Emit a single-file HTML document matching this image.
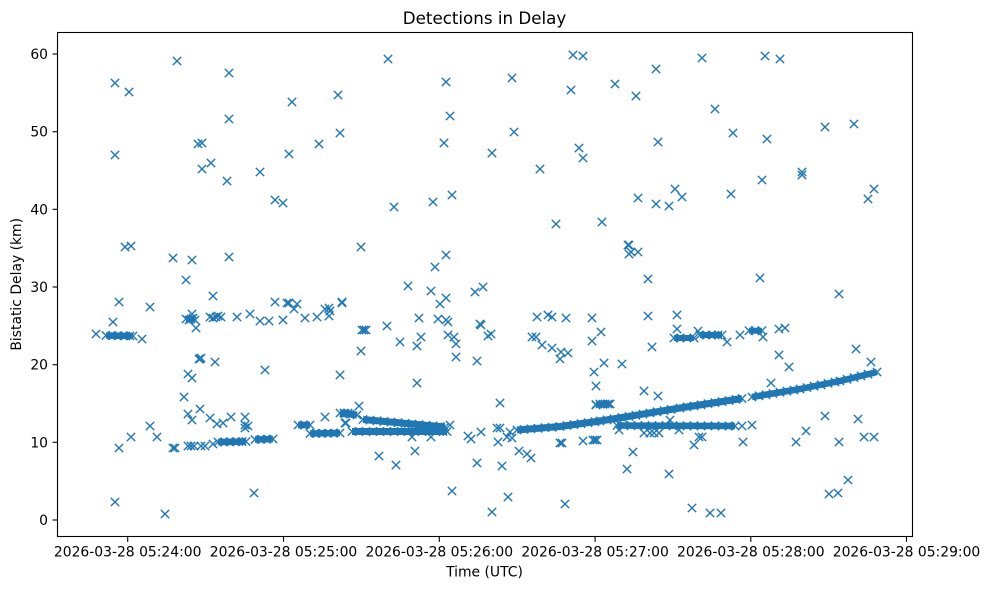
<!DOCTYPE html>
<html><head><meta charset="utf-8"><style>
html,body{margin:0;padding:0;background:#fff}
svg{display:block}
text{font-family:"DejaVu Sans","Liberation Sans",sans-serif;fill:#000}
</style></head><body>
<svg width="989" height="590" viewBox="0 0 989 590" xmlns="http://www.w3.org/2000/svg">
<defs>
<marker id="m" markerUnits="userSpaceOnUse" markerWidth="12" markerHeight="12" refX="6" refY="6" overflow="visible" orient="0">
<path d="M1.83 1.83L10.17 10.17M1.83 10.17L10.17 1.83" stroke="#1f77b4" stroke-width="1.39" fill="none"/>
</marker>
</defs>
<rect x="0" y="0" width="989" height="590" fill="#fff"/>
<text x="484.5" y="24" font-size="16.7" text-anchor="middle">Detections in Delay</text>

<!-- dense bands (core) -->
<g stroke="#1f77b4" fill="none" stroke-linecap="butt" stroke-linejoin="round">
<polyline stroke-width="6.5" points="106,335.5 133,336"/>
<polyline stroke-width="6.5" points="218,442 246,441.5"/>
<polyline stroke-width="6.5" points="255,439.5 273,439"/>
<polyline stroke-width="6.5" points="298,425 310,425"/>
<polyline stroke-width="6.5" points="310,433.5 340,433"/>
<polyline stroke-width="6" points="186,319 195,319"/>
<polyline stroke-width="7" points="340,413 357,415"/>
<polyline stroke-width="7" points="363,419.5 445,427"/>
<polyline stroke-width="7" points="352,431.5 447,431.5"/>
<polyline stroke-width="7" points="517,430 560,426.5 600,421 622,417.5 680,408 742,398.5"/>
<polyline stroke-width="6.5" points="752,397 800,389 840,381 877,372"/>
<polyline stroke-width="6.5" points="617,425.5 735,426"/>
<polyline stroke-width="6" points="674,338 694,338"/>
<polyline stroke-width="6" points="700,335 722,335"/>
<polyline stroke-width="6" points="749,330.7 762,330.7"/>
<polyline stroke-width="6" points="596,404.5 610,404"/>
</g>

<!-- band fringe markers -->
<polyline fill="none" stroke="none" marker-start="url(#m)" marker-mid="url(#m)" marker-end="url(#m)" points="
517,430 524,429.4 531,428.9 538,428.3 545,427.7 552,427.2 560,426.5 567,425.5 574,424.6 581,423.6 588,422.7 595,421.7 600,421 607,419.9 614,418.8 622,417.5 629,416.4 636,415.3 643,414.1 650,413 657,411.8 664,410.6 671,409.4 680,408 687,406.9 694,405.9 701,404.8 708,403.7 715,402.6 722,401.6 729,400.5 736,399.4 742,398.5
752,397 759,395.8 766,394.7 773,393.5 780,392.3 787,391.2 794,390 800,389 807,387.6 814,386.2 821,384.8 828,383.4 835,382 840,381 847,379.3 854,377.6 861,375.9 868,374.2 877,372
363,419.5 370,420.1 377,420.8 384,421.4 391,422 398,422.7 405,423.3 412,424 419,424.6 426,425.3 433,425.9 440,426.5 445,427
352,431.5 359,431.5 366,431.5 373,431.5 380,431.5 387,431.5 394,431.5 401,431.5 408,431.5 415,431.5 422,431.5 429,431.5 436,431.5 443,431.5 447,431.5
617,425.5 624,425.5 631,425.6 638,425.6 645,425.7 652,425.7 659,425.7 666,425.7 673,425.8 680,425.8 687,425.8 694,425.8 701,425.9 708,425.9 715,425.9 722,426 729,426 735,426
340,413 345,413.6 350,414.2 357,415
106,335.5 112,335.6 118,335.7 124,335.8 130,335.9 133,336
218,442 224,442 230,441.8 236,441.7 242,441.6 246,441.5
255,439.5 261,439.3 267,439.2 273,439
298,425 304,425 310,425
310,433.5 316,433.4 322,433.3 328,433.2 334,433.1 340,433
674,338 680,338 687,338 694,338
700,335 706,335 712,335 718,335 722,335
749,330.7 755,330.7 762,330.7
596,404.5 603,404.3 610,404"/>

<!-- scatter markers -->
<polyline fill="none" stroke="none" marker-start="url(#m)" marker-mid="url(#m)" marker-end="url(#m)" points="
177,61 229,73 115,83 129,92 292,102 338,95 229,119 340,133 198,144 202,143 319,144 115,155 289,154 211,163 202,169 227,181 260,172 275,200 283,203 125,247 131,246 173,258 192,260 229,257
186,280 213,296 119,302 150,307 275,302 287,303 289,303 297,304 294,309 342,302 342,303 113,322 96,334 142,339
186,319 189,320 191,319 193,318 195,320 192,314 196,328 210,317 213,318 216,317 218,316 221,317 237,317 250,314 260,321 269,321 283,320 305,318 317,317 325,309 329,308 329,316 330,311
199,359 200,359 201,358 215,362 265,370 340,375 188,374 192,378 184,397 188,414 192,420 200,409 210,418 217,424 223,423 231,417 245,417 245,425 245,428 248,426 150,426 131,437 157,437 119,448 173,448 175,448 188,446 191,446 194,446 201,446 205,446 213,444 325,417 344,413 348,413 345,423 115,502 165,514 254,493
388,59 446,82 512,78 573,55 583,56 571,90 615,84 450,116 514,132 444,143 492,153 579,148 583,158 540,169 452,195 433,202 394,207 556,224 602,222 361,247 446,255 435,267 628,245 629,254
408,286 431,291 440,304 446,298 475,292 483,287 419,318 438,319 446,320 448,322 387,326 362,330 364,330 366,330 480,324 481,325 400,342 421,337 417,346 448,335 454,337 456,344 488,336 491,334 456,357 477,361 361,351 417,383 537,317 548,315 552,317 566,318 592,318 601,332 592,341 532,337 536,337 542,345 552,348 561,352 568,353 560,359 604,363 622,364 594,372 596,386 500,403 359,406 596,405 600,404 605,404 608,404 610,404
346,423 450,425 412,437 431,437 415,451 379,456 396,465 468,436 471,439 481,432 497,428 500,428 498,442 507,437 510,432 512,438 519,451 527,454 531,458 477,463 502,466 452,491 508,497 492,512 565,504 560,443 562,443 583,441 593,440 595,440 597,440 627,469 619,430
648,279 760,278 839,294 648,316 677,315 677,329 698,331 727,342 740,335 763,337 779,329 785,328 652,347 779,355 789,367 856,349 871,362 771,383 644,391 658,396 644,433 650,433 654,433 659,433 670,420 679,430 694,445 699,437 702,437 742,426 752,425 743,442 796,442 806,431 825,416 839,442 858,419 864,437 874,437 633,452 669,474 848,480 829,494 838,493 692,508 710,513 721,513
702,58 765,56 780,59 656,69 636,96 715,109 733,133 767,139 825,127 854,124 658,142 802,172 802,175 762,180 675,189 682,197 638,198 656,204 669,206 731,194 874,189 868,199 629,245 631,252 638,252"/>

<!-- axes frame -->
<rect x="57.5" y="32.5" width="855" height="504" fill="none" stroke="#000" stroke-width="1.1"/>

<!-- y ticks -->
<g stroke="#000" stroke-width="1.1">
<line x1="52.6" y1="520" x2="57.5" y2="520"/>
<line x1="52.6" y1="442.3" x2="57.5" y2="442.3"/>
<line x1="52.6" y1="364.7" x2="57.5" y2="364.7"/>
<line x1="52.6" y1="287" x2="57.5" y2="287"/>
<line x1="52.6" y1="209.3" x2="57.5" y2="209.3"/>
<line x1="52.6" y1="131.7" x2="57.5" y2="131.7"/>
<line x1="52.6" y1="54" x2="57.5" y2="54"/>
</g>
<g font-size="13.9" text-anchor="end">
<text x="48" y="525">0</text>
<text x="48" y="447.3">10</text>
<text x="48" y="369.7">20</text>
<text x="48" y="292">30</text>
<text x="48" y="214.3">40</text>
<text x="48" y="136.7">50</text>
<text x="48" y="59">60</text>
</g>

<!-- x ticks -->
<g stroke="#000" stroke-width="1.1">
<line x1="127.7" y1="537" x2="127.7" y2="541.9"/>
<line x1="283.5" y1="537" x2="283.5" y2="541.9"/>
<line x1="439.3" y1="537" x2="439.3" y2="541.9"/>
<line x1="595.1" y1="537" x2="595.1" y2="541.9"/>
<line x1="750.8" y1="537" x2="750.8" y2="541.9"/>
<line x1="906.5" y1="537" x2="906.5" y2="541.9"/>
</g>
<g font-size="13.9" text-anchor="middle">
<text x="127.7" y="556.7">2026-03-28 05:24:00</text>
<text x="283.5" y="556.7">2026-03-28 05:25:00</text>
<text x="439.3" y="556.7">2026-03-28 05:26:00</text>
<text x="595.1" y="556.7">2026-03-28 05:27:00</text>
<text x="750.8" y="556.7">2026-03-28 05:28:00</text>
<text x="906.5" y="556.7">2026-03-28 05:29:00</text>
</g>

<text x="484.5" y="576.7" font-size="13.9" text-anchor="middle">Time (UTC)</text>
<text transform="translate(21,284.3) rotate(-90)" font-size="13.9" text-anchor="middle">Bistatic Delay (km)</text>
</svg>
</body></html>
